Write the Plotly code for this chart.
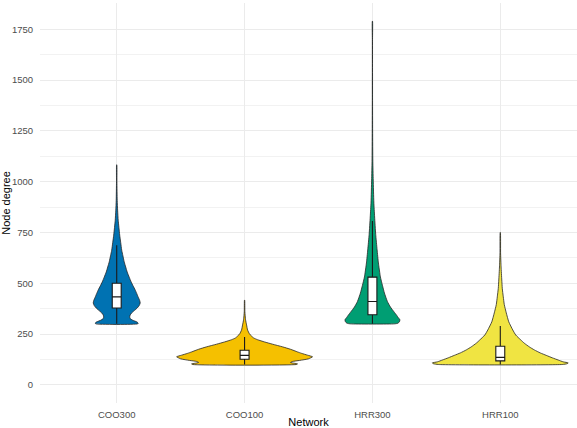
import plotly.graph_objects as go

# ---------------- data ----------------
networks = ["COO300", "COO100", "HRR300", "HRR100"]
fill_colors = ["#0072B2", "#F5C000", "#009E73", "#F0E442"]

# violin profiles: node degree levels and relative density (half-width)
coo300_degree = [300, 304, 310, 318, 326, 334, 344, 354, 369, 378, 390, 403, 415, 432, 450, 467,
                 486, 506, 530, 555, 580, 605, 635, 663, 700, 737, 775, 810, 860, 908, 1000, 1083]
coo300_density = [21, 21.5, 20, 16, 13.5, 13, 13.5, 15, 18.5, 20.5, 22.5, 23.5, 23, 21.5, 20, 18.5,
                  16.5, 14.5, 12.5, 10.5, 9, 7.5, 6.2, 5, 4, 3, 2.2, 1.5, 0.9, 0.5, 0.2, 0.1]

coo100_degree = [100, 103, 106, 110, 115, 120, 128, 138, 146, 155, 162, 175, 187, 200, 211,
                 222, 231, 250, 270, 295, 320, 360, 417]
coo100_density = [52, 53, 50, 46, 48, 55, 64, 68, 63, 57, 53, 46, 38, 28, 20,
                  13, 9, 5, 3, 2, 1, 0.3, 0.1]

hrr300_degree = [300, 303, 310, 320, 330, 344, 360, 383, 410, 452, 490, 531, 600, 664, 740,
                 826, 900, 1008, 1100, 1250, 1400, 1550, 1700, 1790]
hrr300_density = [22, 25.5, 27, 27.5, 26, 24, 21.5, 18, 15, 12, 10, 8, 6, 4.7, 3.3,
                  2.2, 1.4, 0.8, 0.4, 0.2, 0.12, 0.1, 0.1, 0.1]

hrr100_degree = [100, 104, 108, 113, 122, 133, 145, 157, 172, 187, 205, 221, 245, 270, 310,
                 354, 395, 433, 475, 516, 580, 650, 750]
hrr100_density = [62, 67, 68, 63, 58, 52, 46, 40, 34, 29, 24, 20.5, 15.5, 12.5, 8.5,
                  6, 4, 3, 2, 1.5, 0.8, 0.3, 0.1]

degree_levels = [coo300_degree, coo100_degree, hrr300_degree, hrr100_degree]
density_levels = [coo300_density, coo100_density, hrr300_density, hrr100_density]

# box plot statistics (outliers hidden)
box_lower = [300, 100, 300, 100]
box_q1 = [378, 126, 345, 118]
box_median = [433, 145, 410, 135]
box_q3 = [500, 170, 530, 190]
box_upper = [687, 236, 807, 290]

y_ticks = [0, 250, 500, 750, 1000, 1250, 1500, 1750]

# ---------------- figure ----------------
WIDTH_SCALE = 1 / 128.0  # relative density -> category units
OUTLINE = "#262626"
X_RANGE = [-0.6, 3.6]
Y_RANGE = [-89.5, 1879.5]

fig = go.Figure()

for i, name in enumerate(networks):
    ys = degree_levels[i]
    hw = [d * WIDTH_SCALE for d in density_levels[i]]
    xs = [i + w for w in hw] + [i - w for w in reversed(hw)]
    yy = list(ys) + list(reversed(ys))
    xs.append(xs[0])
    yy.append(yy[0])
    fig.add_trace(go.Scatter(
        x=xs, y=yy, mode="lines", fill="toself",
        fillcolor=fill_colors[i],
        line=dict(color=OUTLINE, width=0.8, shape="spline", smoothing=0.5),
        hoverinfo="skip", showlegend=False,
    ))

# boxes on an overlaying subplot so that they are drawn above the violins
for i, name in enumerate(networks):
    fig.add_trace(go.Box(
        x=[i], q1=[box_q1[i]], median=[box_median[i]], q3=[box_q3[i]],
        lowerfence=[box_lower[i]], upperfence=[box_upper[i]],
        width=0.07, whiskerwidth=0, boxpoints=False,
        fillcolor="white", line=dict(color="#1a1a1a", width=1.1),
        showlegend=False, name=name, xaxis="x2", yaxis="y2",
    ))

fig.update_layout(
    width=577, height=428,
    margin=dict(l=40, r=0, t=3, b=25),
    paper_bgcolor="white", plot_bgcolor="white",
    font=dict(family="Liberation Sans, Arial, sans-serif", color="#000000"),
    showlegend=False,
    xaxis2=dict(overlaying="x", range=X_RANGE, visible=False, showgrid=False),
    yaxis2=dict(overlaying="y", range=Y_RANGE, visible=False, showgrid=False),
)

fig.layout.xaxis.update(
    range=X_RANGE,
    tickmode="array", tickvals=list(range(len(networks))), ticktext=networks,
    showgrid=True, gridcolor="#EBEBEB", gridwidth=1,
    zeroline=False, showline=False,
    ticks="outside", ticklen=3, tickcolor="rgba(0,0,0,0)",
    tickfont=dict(size=9.5, color="#4D4D4D"),
    title=dict(text="Network", font=dict(size=11, color="#000000"), standoff=2),
    automargin=False,
)

fig.layout.yaxis.update(
    range=Y_RANGE,
    tickmode="array", tickvals=y_ticks,
    showgrid=True, gridcolor="#EBEBEB", gridwidth=1,
    minor=dict(dtick=125, tick0=0, showgrid=True, gridcolor="#F2F2F2", gridwidth=0.6),
    zeroline=False, showline=False,
    ticks="outside", ticklen=4, tickcolor="rgba(0,0,0,0)",
    tickfont=dict(size=9.5, color="#4D4D4D"),
    title=dict(text="Node degree", font=dict(size=11, color="#000000"), standoff=3),
    automargin=False,
)

fig.write_html("out.html")
